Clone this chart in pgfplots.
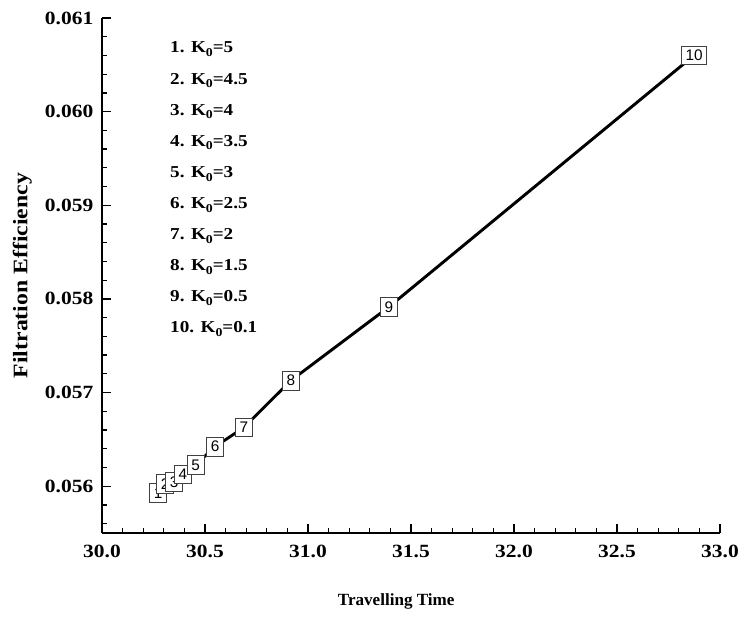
\documentclass[border=0pt]{standalone}
\usepackage{fontspec}
\setmainfont{Liberation Serif}
\newfontfamily\tickfont{Liberation Serif}[FakeStretch=1.15]
\newfontfamily\boxfont{Liberation Sans}
\usepackage{pgfplots}
\pgfplotsset{compat=1.18}
\newcommand\sub[1]{\raisebox{-0.5ex}{\fontsize{9}{9}\selectfont #1}}

\begin{document}
\begin{tikzpicture}
\path[use as bounding box] (-76.5pt,-64.5pt) rectangle (480pt,399.75pt);
\begin{axis}[
    at={(0,0)}, anchor=south west,
    scale only axis,
    width=463.5pt, height=386.25pt,
    xmin=30, xmax=33,
    ymin=0.0555, ymax=0.061,
    clip=false,
    axis lines=left,
    axis line style={-, line width=1pt},
    tick align=inside,
    tick style={black, line width=1pt},
    major tick length=6.75pt,
    minor tick length=3.4pt,
    xtick={30,30.5,31,31.5,32,32.5,33},
    minor x tick num=4,
    ytick={0.056,0.057,0.058,0.059,0.060,0.061},
    minor ytick={0.0556,0.0558,0.0562,0.0564,0.0566,0.0568,0.0572,0.0574,0.0576,0.0578,
                 0.0582,0.0584,0.0586,0.0588,0.0592,0.0594,0.0596,0.0598,
                 0.0602,0.0604,0.0606,0.0608},
    scaled y ticks=false,
    ticklabel style={font=\tickfont\bfseries\fontsize{14}{16}\selectfont},
    xticklabel style={yshift=-5.8pt, /pgf/number format/.cd, fixed, fixed zerofill, precision=1, assume math mode=true},
    yticklabel style={xshift=-3pt, /pgf/number format/.cd, fixed, fixed zerofill, precision=3, assume math mode=true},
    xlabel={Travelling Time},
    ylabel={Filtration Efficiency},
    xlabel style={at={(axis description cs:0.476,-0.132)}, anchor=center, font=\bfseries\fontsize{12.8}{15}\selectfont},
    ylabel style={at={(axis description cs:-0.129,0.5)}, anchor=center, font=\tickfont\bfseries\fontsize{15.5}{18}\selectfont},
]
% curve
\addplot[black, line width=2.2pt, mark=none] coordinates {
    (30.272,0.055926) (30.306,0.056021) (30.350,0.056043) (30.393,0.056128)
    (30.455,0.056227) (30.549,0.056422) (30.689,0.056628) (30.917,0.057128)
    (31.393,0.057915) (32.874,0.060601)
};
% numbered boxes
\addplot[only marks, mark=none, nodes near coords, point meta=explicit symbolic,
    every node near coord/.append style={anchor=center, draw=black!75, line width=0.6pt,
        fill=white, text=black, inner sep=3pt, font=\boxfont\fontsize{11.5}{12}\selectfont}]
    coordinates {
    (30.272,0.055926) [1] (30.306,0.056021) [2] (30.350,0.056043) [3] (30.393,0.056128) [4]
    (30.455,0.056227) [5] (30.549,0.056422) [6] (30.689,0.056628) [7] (30.917,0.057128) [8]
    (31.393,0.057915) [9] (32.874,0.060601) [10]
};
\node[anchor=north west, align=left, inner sep=0pt,
      font=\tickfont\bfseries\fontsize{12.5}{23.3}\selectfont] at (rel axis cs:0.110,0.954)
    {1. K\sub{0}=5\\
     2. K\sub{0}=4.5\\
     3. K\sub{0}=4\\
     4. K\sub{0}=3.5\\
     5. K\sub{0}=3\\
     6. K\sub{0}=2.5\\
     7. K\sub{0}=2\\
     8. K\sub{0}=1.5\\
     9. K\sub{0}=0.5\\
     10. K\sub{0}=0.1};
\end{axis}
\end{tikzpicture}
\end{document}
